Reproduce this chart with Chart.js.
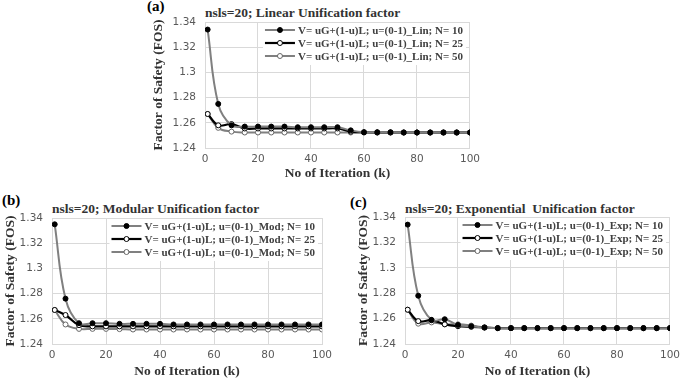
<!DOCTYPE html>
<html>
<head>
<meta charset="utf-8">
<script src="https://cdn.jsdelivr.net/npm/chart.js@4"></script>
<style>
  body { margin: 0; background: #fff; width: 685px; height: 381px; position: relative; overflow: hidden; }
  .panel { position: absolute; }
  .lbl { position: absolute; font: bold 15px "Liberation Serif"; color: #000; }
  .ttl { position: absolute; font: bold 13.5px "Liberation Serif"; color: #333; white-space: nowrap; }
</style>
</head>
<body>
<div class="lbl" style="left:147px;top:-2px">(a)</div>
<div class="ttl" style="left:205px;top:5px">nsls=20; Linear Unification factor</div>
<div class="panel" style="left:140px;top:0;width:345px;height:182px"><canvas id="chartA"></canvas></div>

<div class="lbl" style="left:2px;top:192px">(b)</div>
<div class="ttl" style="left:52px;top:201px">nsls=20; Modular Unification factor</div>
<div class="panel" style="left:0;top:182px;width:340px;height:198px"><canvas id="chartB"></canvas></div>

<div class="lbl" style="left:350px;top:194px">(c)</div>
<div class="ttl" style="left:405px;top:201px">nsls=20; Exponential&nbsp; Unification factor</div>
<div class="panel" style="left:345px;top:182px;width:340px;height:198px"><canvas id="chartC"></canvas></div>

<script>
const iterations = [1, 5, 10, 15, 20, 25, 30, 35, 40, 45, 50, 55, 60, 65, 70, 75, 80, 85, 90, 95, 100];
const yTicks = [1.24, 1.26, 1.28, 1.3, 1.32, 1.34];

// (a) linear
const linN10 = [1.334, 1.275, 1.258, 1.257, 1.257, 1.257, 1.257, 1.2565, 1.2565, 1.2565, 1.2565, 1.254, 1.2525, 1.2525, 1.2525, 1.2523, 1.2523, 1.2523, 1.2523, 1.2523, 1.2523];
const linN25 = [1.267, 1.258, 1.259, 1.2555, 1.2555, 1.2555, 1.2555, 1.2555, 1.2555, 1.2555, 1.2555, 1.253, 1.2525, 1.2523, 1.2523, 1.2523, 1.2523, 1.2523, 1.2523, 1.2523, 1.2523];
const linN50 = [1.267, 1.256, 1.253, 1.2523, 1.2523, 1.2523, 1.2523, 1.2523, 1.2523, 1.2523, 1.2523, 1.2523, 1.2523, 1.2523, 1.2523, 1.2523, 1.2523, 1.2523, 1.2523, 1.2523, 1.2523];

// (b) modular
const modN10 = [1.335, 1.276, 1.2565, 1.2565, 1.2565, 1.256, 1.256, 1.256, 1.256, 1.2555, 1.2555, 1.2555, 1.2555, 1.2555, 1.2555, 1.2555, 1.2555, 1.2555, 1.2555, 1.2555, 1.2555];
const modN25 = [1.267, 1.263, 1.255, 1.254, 1.254, 1.254, 1.254, 1.254, 1.254, 1.254, 1.254, 1.254, 1.254, 1.254, 1.254, 1.254, 1.254, 1.254, 1.254, 1.254, 1.254];
const modN50 = [1.267, 1.2555, 1.252, 1.252, 1.252, 1.2518, 1.2515, 1.2515, 1.2515, 1.2515, 1.2515, 1.2515, 1.2515, 1.2515, 1.2515, 1.2515, 1.2515, 1.2515, 1.2515, 1.2515, 1.2515];

// (c) exponential
const expN10 = [1.334, 1.278, 1.259, 1.2595, 1.255, 1.254, 1.253, 1.2525, 1.2525, 1.2525, 1.2525, 1.2525, 1.2525, 1.2525, 1.2525, 1.2525, 1.2525, 1.2525, 1.2525, 1.2525, 1.2525];
const expN25 = [1.267, 1.258, 1.2587, 1.2555, 1.254, 1.2535, 1.253, 1.2525, 1.2525, 1.2525, 1.2525, 1.2525, 1.2525, 1.2525, 1.2525, 1.2525, 1.2525, 1.2525, 1.2525, 1.2525, 1.2525];
const expN50 = [1.267, 1.256, 1.257, 1.2555, 1.2555, 1.2545, 1.253, 1.2525, 1.2525, 1.2525, 1.2525, 1.2525, 1.2525, 1.2525, 1.2525, 1.2525, 1.2525, 1.2525, 1.2525, 1.2525, 1.2525];

const toPoints = (vals) => vals.map((v, i) => ({ x: iterations[i], y: v }));

// legend drawn inside the plot, top right, on white
const legendBox = {
  id: 'legendBox',
  afterDatasetsDraw(chart) {
    const { ctx, chartArea } = chart;
    const sets = chart.data.datasets;
    ctx.save();
    ctx.font = 'bold 11px "Liberation Serif"';
    const w = Math.max(...sets.map(d => ctx.measureText(d.label).width));
    const textX = chartArea.right - 7 - w;
    const lineX = textX - 33;
    ctx.fillStyle = '#fff';
    ctx.fillRect(lineX - 2, chartArea.top + 1, w + 38, sets.length * 13 + 3);
    sets.forEach((d, i) => {
      const y = chartArea.top + 8 + i * 13;
      ctx.strokeStyle = d.borderColor;
      ctx.lineWidth = d.borderWidth;
      ctx.beginPath();
      ctx.moveTo(lineX, y);
      ctx.lineTo(lineX + 30, y);
      ctx.stroke();
      ctx.beginPath();
      ctx.arc(lineX + 15, y, 2.5, 0, Math.PI * 2);
      ctx.fillStyle = d.pointBackgroundColor;
      ctx.fill();
      ctx.lineWidth = 1;
      ctx.strokeStyle = d.pointBorderColor;
      ctx.stroke();
      ctx.fillStyle = '#404040';
      ctx.textBaseline = 'middle';
      ctx.fillText(d.label, textX, y + 1);
    });
    ctx.restore();
  }
};

function makeChart(id, tag, s10, s25, s50, box) {
  const ds = (label, vals, line, fill, edge, width) => ({
    label: label,
    data: toPoints(vals),
    borderColor: line,
    borderWidth: width,
    pointBackgroundColor: fill,
    pointBorderColor: edge,
    pointBorderWidth: 1,
    pointRadius: 2.5,
    tension: 0.4
  });
  return new Chart(document.getElementById(id), {
    type: 'line',
    data: {
      datasets: [
        ds(`V= uG+(1-u)L; u=(0-1)_${tag}; N= 10`, s10, '#808080', '#000', '#000', 2),
        ds(`V= uG+(1-u)L; u=(0-1)_${tag}; N= 25`, s25, '#000', '#fff', '#000', 2.2),
        ds(`V= uG+(1-u)L; u=(0-1)_${tag}; N= 50`, s50, '#808080', '#fff', '#666', 2)
      ]
    },
    options: {
      responsive: true,
      maintainAspectRatio: false,
      animation: false,
      layout: { padding: { left: 0, right: box.right, top: box.top, bottom: 0 } },
      plugins: { legend: { display: false }, tooltip: { enabled: false } },
      scales: {
        x: {
          type: 'linear',
          min: 0, max: 100,
          afterFit: (s) => { s.height = box.xh; },
          grid: { color: '#d9d9d9', drawTicks: false },
          border: { color: '#d9d9d9' },
          ticks: { stepSize: 20, padding: 5, color: '#595959', font: { family: 'DejaVu Sans', size: 10.5 } },
          title: { display: true, text: 'No of Iteration (k)', color: '#333', padding: { top: 0, bottom: 0 },
                   font: { family: 'Liberation Serif', size: 13.5, weight: 'bold' } }
        },
        y: {
          min: 1.24, max: 1.34,
          afterFit: (s) => { s.width = box.yw; },
          afterBuildTicks: (s) => { s.ticks = yTicks.map(v => ({ value: v })); },
          grid: { color: '#d9d9d9', drawTicks: false },
          border: { color: '#d9d9d9' },
          ticks: { padding: 9, color: '#595959', font: { family: 'DejaVu Sans', size: 10.5 },
                   callback: (v) => String(+(+v).toFixed(2)) },
          title: { display: true, text: 'Factor of Safety (FOS)', color: '#333', padding: { top: box.tp, bottom: 0 },
                   font: { family: 'Liberation Serif', size: 13.5, weight: 'bold' } }
        }
      }
    },
    plugins: [legendBox]
  });
}

makeChart('chartA', 'Lin', linN10, linN25, linN50, { right: 12, top: 22, xh: 34, yw: 65, tp: 10 });
makeChart('chartB', 'Mod', modN10, modN25, modN50, { right: 18, top: 36, xh: 36, yw: 52, tp: 2 });
makeChart('chartC', 'Exp', expN10, expN25, expN50, { right: 10, top: 35, xh: 36, yw: 60, tp: 10 });
</script>
</body>
</html>
